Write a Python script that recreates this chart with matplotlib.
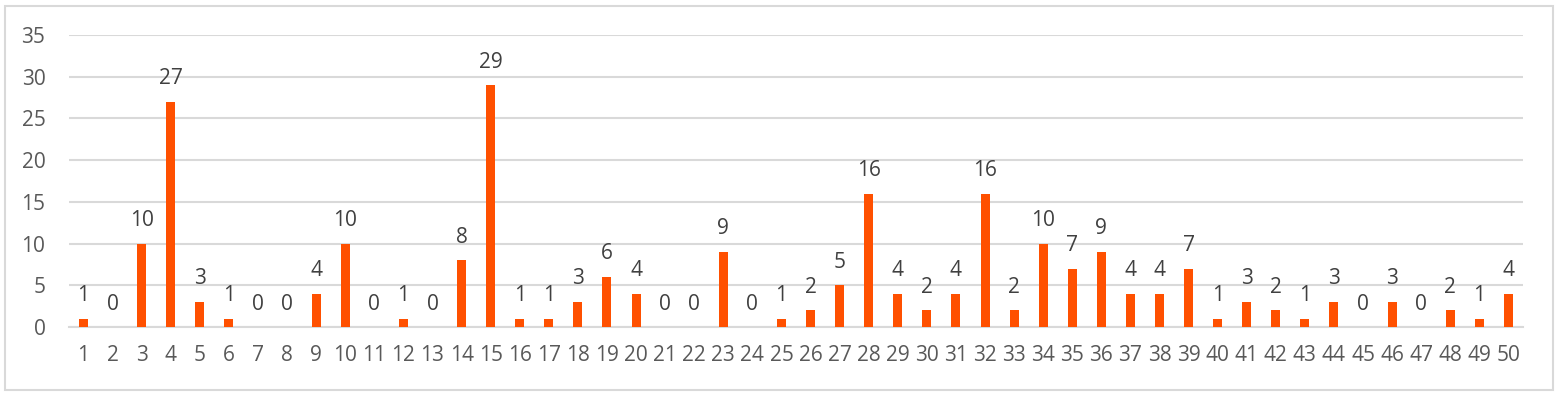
import matplotlib
matplotlib.use("Agg")
import matplotlib.pyplot as plt
from matplotlib.patches import Rectangle

categories = [str(i) for i in range(1, 51)]
values = [1, 0, 10, 27, 3, 1, 0, 0, 4, 10,
          0, 1, 0, 8, 29, 1, 1, 3, 6, 4,
          0, 0, 9, 0, 1, 2, 5, 16, 4, 2,
          4, 16, 2, 10, 7, 9, 4, 4, 7, 1,
          3, 2, 1, 3, 0, 3, 0, 2, 1, 4]
y_ticks = [0, 5, 10, 15, 20, 25, 30, 35]

plt.rcParams['font.family'] = ['Open Sans', 'DejaVu Sans']
text_color = '#595959'
grid_color = '#D9D9D9'
bar_color = '#FF5000'

fig = plt.figure(figsize=(15.58, 3.95), dpi=100)
fig.patches.append(Rectangle((5/1558, 5/395), 1548/1558, 384/395, transform=fig.transFigure,
                             fill=False, edgecolor=grid_color, linewidth=1.5))
ax = fig.add_axes([69/1558, 1 - 327/395, (1523-69)/1558, (327-35)/395])

x = list(range(1, len(categories) + 1))
ax.bar(x, values, width=0.31, color=bar_color, zorder=3)
for xi, v in zip(x, values):
    ax.annotate(str(v), (xi, v), xytext=(0, 9), textcoords='offset points',
                ha='center', va='bottom', fontsize=15, color='#404040')

ax.set_xlim(0.5, len(categories) + 0.5)
ax.set_ylim(0, 35)
ax.set_yticks(y_ticks)
ax.set_xticks(x)
ax.set_xticklabels(categories)
ax.yaxis.grid(True, color=grid_color, linewidth=1.5, zorder=0)
for s in ['top', 'right', 'left']:
    ax.spines[s].set_visible(False)
ax.spines['bottom'].set_color(grid_color)
ax.spines['bottom'].set_linewidth(1.5)
ax.tick_params(axis='both', length=0, labelsize=15, colors=text_color)
ax.tick_params(axis='x', pad=13)
ax.tick_params(axis='y', pad=17)

fig.savefig('out.png', dpi=100)
